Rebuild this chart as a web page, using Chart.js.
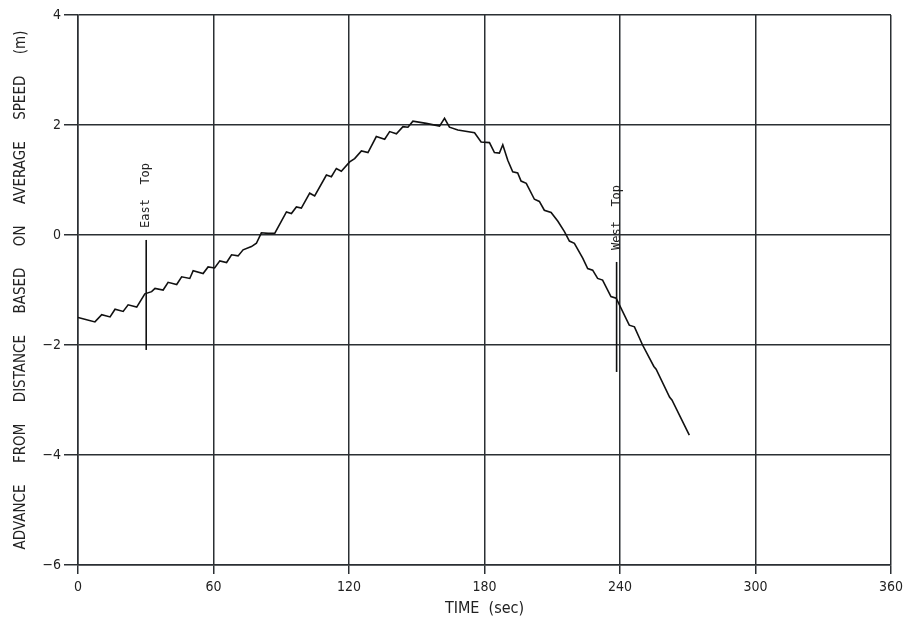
<!DOCTYPE html>
<html>
<head>
<meta charset="utf-8">
<script src="https://cdn.jsdelivr.net/npm/chart.js@4/dist/chart.umd.min.js"></script>
<style>
  html, body { margin: 0; padding: 0; background: #fff; }
  #wrap { width: 908px; height: 620px; }
</style>
</head>
<body>
<div id="wrap"><canvas id="advanceChart" width="908" height="620"></canvas></div>
<script>
'use strict';

// time (sec) and advance (m)
const timeSec = [
  0, 3, 7.5, 10.5, 14.2, 16.4, 20.0, 22.2, 26.0, 29.6, 32.6, 34.1, 37.7, 39.9,
  43.7, 45.9, 49.5, 51.0, 55.4, 57.6, 60.5, 62.8, 65.8, 68.0, 70.9, 73.1, 76.8,
  79.0, 81.2, 84.2, 87.1, 92.3, 94.5, 96.7, 98.9, 102.6, 104.8, 110.0, 112.2,
  114.4, 116.6, 120.3, 122.5, 125.5, 128.4, 132.1, 135.8, 138.0, 141.0, 143.9,
  146.1, 148.3, 154.2, 160.1, 162.3, 164.5, 168.2, 175.6, 178.5, 182.2, 184.4,
  186.6, 188.1, 190.3, 192.5, 194.7, 196.2, 198.5, 202.1, 204.3, 206.5, 209.5,
  212.5, 215.4, 217.6, 219.8, 223.5, 225.7, 227.9, 230.1, 232.3, 236.0, 238.3,
  244.1, 246.4, 250.0, 255.0, 256.0, 262.0, 263.0, 270.7
];
const advanceM = [
  -1.50, -1.53, -1.58, -1.45, -1.49, -1.35, -1.39, -1.27, -1.31, -1.07, -1.03, -0.97, -1.00, -0.86,
  -0.90, -0.76, -0.79, -0.65, -0.70, -0.58, -0.60, -0.47, -0.50, -0.36, -0.38, -0.27, -0.21,
  -0.15, 0.04, 0.03, 0.03, 0.42, 0.39, 0.51, 0.49, 0.76, 0.71, 1.09, 1.06,
  1.21, 1.16, 1.33, 1.39, 1.53, 1.50, 1.79, 1.74, 1.88, 1.84, 1.97,
  1.96, 2.07, 2.03, 1.98, 2.12, 1.96, 1.91, 1.86, 1.69, 1.68, 1.50,
  1.49, 1.64, 1.36, 1.15, 1.13, 0.98, 0.94, 0.65, 0.61, 0.45, 0.41,
  0.25, 0.06, -0.11, -0.15, -0.42, -0.61, -0.64, -0.79, -0.82, -1.12, -1.15,
  -1.64, -1.67, -2.00, -2.39, -2.44, -2.95, -3.00, -3.64
];

// event markers: time, bottom and top of the bar
const markerNames = ['East Top', 'West Top'];
const markerTimes = [30.2, 238.5];
const markerLow = [-2.09, -2.49];
const markerHigh = [-0.09, -0.49];

const xTicks = [0, 60, 120, 180, 240, 300, 360];
const yTicks = [-6, -4, -2, 0, 2, 4];

const gridColor = '#2b2f33';
const narrowFamily = "'Liberation Sans Narrow', 'DejaVu Sans Condensed', 'Liberation Sans', sans-serif";

const seriesPoints = timeSec.map((t, i) => ({x: t, y: advanceM[i]}));

const markerSets = markerNames.map((name, i) => ({
  label:       name,
  data:        [{x: markerTimes[i], y: markerLow[i]}, {x: markerTimes[i], y: markerHigh[i]}],
  borderColor: '#111',
  borderWidth: 1.6,
  pointRadius: 0,
  showLine:    true,
}));

const markerLabels = {
  id: 'markerLabels',
  afterDatasetsDraw(chart) {
    const ctx = chart.ctx;
    const xs = chart.scales.x;
    const ys = chart.scales.y;
    ctx.save();
    ctx.fillStyle = '#222';
    ctx.font = "12px 'DejaVu Sans Mono', monospace";
    ctx.textBaseline = 'middle';
    ctx.textAlign = 'left';
    markerNames.forEach((name, i) => {
      const px = xs.getPixelForValue(markerTimes[i]);
      const py = ys.getPixelForValue(markerHigh[i]) - 12;
      ctx.save();
      ctx.translate(px, py);
      ctx.rotate(-Math.PI / 2);
      ctx.fillText(name.replace(' ', '  '), 0, 0);
      ctx.restore();
    });
    ctx.restore();
  },
};

new Chart(document.getElementById('advanceChart'), {
  type: 'scatter',
  data: {
    datasets: [
      {
        label:       'advance',
        data:        seriesPoints,
        borderColor: '#111',
        borderWidth: 1.6,
        pointRadius: 0,
        showLine:    true,
        tension:     0,
      },
      ...markerSets,
    ],
  },
  options: {
    responsive: false,
    animation:  false,
    layout:     {padding: {top: 15, right: 16, left: 0, bottom: 0}},
    plugins:    {
      legend:  {display: false},
      tooltip: {enabled: false},
    },
    scales: {
      x: {
        type: 'linear',
        min:  0,
        max:  360,
        afterBuildTicks: (scale) => { scale.ticks = xTicks.map(v => ({value: v})); },
        afterFit: (scale) => { scale.height = 55; },
        grid: {
          color:      gridColor,
          lineWidth:  1.5,
          tickLength: 9,
        },
        border: {color: gridColor, width: 1.5},
        ticks: {
          color:       '#222',
          font:        {family: narrowFamily, size: 14},
          padding:     5,
          maxRotation: 0,
        },
        title: {
          display: true,
          text:    'TIME  (sec)',
          color:   '#222',
          font:    {family: narrowFamily, size: 16},
          padding: {top: 0, bottom: 2},
        },
      },
      y: {
        type: 'linear',
        min:  -6,
        max:  4,
        afterBuildTicks: (scale) => { scale.ticks = yTicks.map(v => ({value: v})); },
        afterFit: (scale) => { scale.width = 78; },
        grid: {
          color:      gridColor,
          lineWidth:  1.5,
          tickLength: 14,
        },
        border: {color: gridColor, width: 1.5},
        ticks: {
          color:   '#222',
          font:    {family: narrowFamily, size: 14},
          padding: 3,
          callback: (v) => (v < 0 ? '\u2212' + Math.abs(v) : String(v)),
        },
        title: {
          display: true,
          text:    'ADVANCE     FROM     DISTANCE     BASED     ON     AVERAGE     SPEED     (m)',
          color:   '#222',
          font:    {family: narrowFamily, size: 15},
          padding: {top: 12, bottom: 0},
        },
      },
    },
  },
  plugins: [markerLabels],
});
</script>
</body>
</html>
